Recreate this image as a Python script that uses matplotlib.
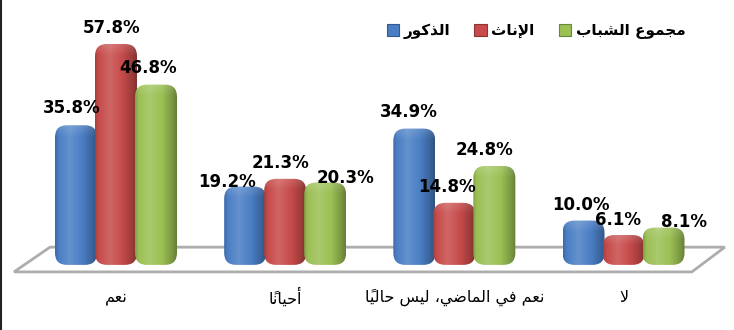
import numpy as np
import matplotlib
matplotlib.use("Agg")
import matplotlib.pyplot as plt
from matplotlib.patches import FancyBboxPatch, Polygon, Patch
from matplotlib.lines import Line2D
from matplotlib.colors import to_rgb

# data
categories = ["نعم", "أحياناً", "نعم في الماضي، ليس حالياً", "لا"]
series_names = ["الذكور", "الإناث", "مجموع الشباب"]
males = [35.8, 19.2, 34.9, 10.0]
females = [57.8, 21.3, 14.8, 6.1]
total = [46.8, 20.3, 24.8, 8.1]
colors = ["#4A7EC4", "#C64B4A", "#9BC054"]

# label nudges in pixels (excel moved a few to avoid overlaps)
label_dx = [[-4, -4, -8], [-18, -5, 20], [-6, -7, -10], [-3, -6, 20]]
label_dy = [[17, 16, 17], [5, 16, 5], [17, 16, 16], [16, 15, 6]]

# --- minimal arabic shaping (matplotlib has no bidi / joining support) ---
FORMS = {
    'ا': ('\uFE8D', '\uFE8E', None, None),
    'أ': ('\uFE83', '\uFE84', None, None),
    'إ': ('\uFE87', '\uFE88', None, None),
    'ب': ('\uFE8F', '\uFE90', '\uFE91', '\uFE92'),
    'ث': ('\uFE99', '\uFE9A', '\uFE9B', '\uFE9C'),
    'ج': ('\uFE9D', '\uFE9E', '\uFE9F', '\uFEA0'),
    'ح': ('\uFEA1', '\uFEA2', '\uFEA3', '\uFEA4'),
    'ذ': ('\uFEAB', '\uFEAC', None, None),
    'ر': ('\uFEAD', '\uFEAE', None, None),
    'س': ('\uFEB1', '\uFEB2', '\uFEB3', '\uFEB4'),
    'ش': ('\uFEB5', '\uFEB6', '\uFEB7', '\uFEB8'),
    'ض': ('\uFEBD', '\uFEBE', '\uFEBF', '\uFEC0'),
    'ع': ('\uFEC9', '\uFECA', '\uFECB', '\uFECC'),
    'ف': ('\uFED1', '\uFED2', '\uFED3', '\uFED4'),
    'ك': ('\uFED9', '\uFEDA', '\uFEDB', '\uFEDC'),
    'ل': ('\uFEDD', '\uFEDE', '\uFEDF', '\uFEE0'),
    'م': ('\uFEE1', '\uFEE2', '\uFEE3', '\uFEE4'),
    'ن': ('\uFEE5', '\uFEE6', '\uFEE7', '\uFEE8'),
    'و': ('\uFEED', '\uFEEE', None, None),
    'ي': ('\uFEF1', '\uFEF2', '\uFEF3', '\uFEF4'),
}
LAM_ALEF = {'ا': ('\uFEFB', '\uFEFC'), 'أ': ('\uFEF7', '\uFEF8'), 'إ': ('\uFEF9', '\uFEFA')}
MARKS = set('\u064B\u064C\u064D\u064E\u064F\u0650\u0651\u0652')


def shape(text):
    tokens = []
    i = 0
    while i < len(text):
        c = text[i]
        if c in MARKS and tokens:
            tokens[-1][1] += c
        elif c == 'ل' and i + 1 < len(text) and text[i + 1] in LAM_ALEF:
            tokens.append(['ل' + text[i + 1], ''])
            i += 1
        else:
            tokens.append([c, ''])
        i += 1

    def dual(b):
        return b in FORMS and FORMS[b][2] is not None

    def letter(b):
        return b in FORMS or len(b) == 2

    out = []
    for k, (b, m) in enumerate(tokens):
        prev = tokens[k - 1][0] if k > 0 else None
        nxt = tokens[k + 1][0] if k + 1 < len(tokens) else None
        p = prev is not None and dual(prev) and letter(b)
        if len(b) == 2:
            g = LAM_ALEF[b[1]][1 if p else 0]
        elif b in FORMS:
            f = FORMS[b]
            n = f[2] is not None and nxt is not None and letter(nxt)
            if p and n:
                g = f[3]
            elif p:
                g = f[1]
            elif n:
                g = f[2]
            else:
                g = f[0]
        else:
            g = b
        out.append(g + m)
    return ''.join(reversed(out))


def shade(rgb, s):
    rgb = np.asarray(rgb)
    if s <= 1:
        return rgb * s
    return rgb + (1 - rgb) * (s - 1)


# figure, axes mapped so one group = 169 px and 1% = 3.69 px
W, H = 734, 330
fig = plt.figure(figsize=(W / 100, H / 100), dpi=100)
ax = fig.add_axes([0, 0, 1, 1])
px_x = 169.17
px_y = 3.694
x0_px = 116
y0_px = 257.5
ax.set_xlim(-x0_px / px_x, (W - x0_px) / px_x)
ax.set_ylim(-(H - y0_px) / px_y, y0_px / px_y)
ax.axis('off')

# floor
back = 2.8
front = -3.9
floor = Polygon([(-0.603, front), (3.404, front), (3.599, back), (-0.39, back)],
                closed=True, fc='white', ec='#ADADAD', lw=2, zorder=1)
ax.add_patch(floor)

x = np.arange(len(categories))
step = 40 / px_x
bw = 42 / px_x
base = -2.0
aspect = px_x / px_y
values = [males, females, total]

for s, vals in enumerate(values):
    rgb = to_rgb(colors[s])
    for g, v in enumerate(vals):
        cx = x[g] + (s - 1) * step
        hpx = int((v - base) * px_y)
        ncol = 60
        u = np.linspace(0, 1, ncol)
        prof = np.interp(u, [0, 0.08, 0.35, 0.65, 0.9, 1], [0.84, 1.0, 1.15, 1.0, 0.78, 0.66])
        img = np.zeros((hpx, ncol, 3))
        for j in range(ncol):
            img[:, j] = shade(rgb, prof[j])
        # lighter cap at the top
        cap = min(11, hpx // 3)
        for r in range(cap):
            t = 1 - r / cap
            img[hpx - 1 - r] = img[hpx - 1 - r] + (1 - img[hpx - 1 - r]) * 0.14 * t
        patch = FancyBboxPatch((cx - bw / 2, base), bw, v - base,
                               boxstyle="round,pad=0,rounding_size=%f" % (12 / px_x),
                               mutation_aspect=aspect, fc='none', ec='none', zorder=3)
        ax.add_patch(patch)
        im = ax.imshow(img, extent=(cx - bw / 2, cx + bw / 2, base, v), origin='lower',
                       aspect='auto', zorder=3 + g * 0.01 + s * 0.001, interpolation='bilinear')
        im.set_clip_path(patch)
        ax.annotate("%.1f%%" % v, xy=(cx, v), xytext=(label_dx[g][s], label_dy[g][s]),
                    textcoords='offset pixels', ha='center', va='center',
                    fontsize=12, fontweight='bold', color='black', zorder=10)

ax.set_xlim(-x0_px / px_x, (W - x0_px) / px_x)
ax.set_ylim(-(H - y0_px) / px_y, y0_px / px_y)

for g, c in enumerate(categories):
    ax.text(x[g], -10.7, shape(c), ha='center', va='center', fontsize=11.5,
            family='DejaVu Sans', color='black')

handles = [Patch(fc=colors[i], ec=tuple(np.array(to_rgb(colors[i])) * 0.7), lw=0.8)
           for i in range(3)]
fig.legend(handles, [shape(n) for n in series_names], loc='center',
           bbox_to_anchor=(536 / W, 1 - 31 / H), ncol=3, frameon=False,
           prop={'weight': 'bold', 'size': 11}, handlelength=0.8, handleheight=0.8,
           handletextpad=0.3, columnspacing=1.6)

fig.add_artist(Line2D([0.0015, 0.0015], [0, 1], transform=fig.transFigure, color='#222222', lw=1.5))

fig.savefig("out.png", dpi=100)
